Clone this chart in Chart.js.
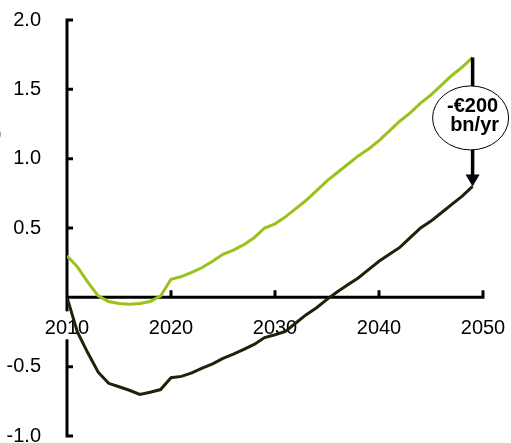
<!DOCTYPE html>
<html>
<head>
<meta charset="utf-8">
<script src="https://cdn.jsdelivr.net/npm/chart.js@4.4.1/dist/chart.umd.min.js"></script>
<style>
  html, body { margin: 0; padding: 0; background: #fff; overflow: hidden; }
  #wrap { width: 511px; height: 443px; }
</style>
</head>
<body>
<div id="wrap"><canvas id="chart"></canvas></div>
<script>
const years = [
  2010, 2011, 2012, 2013, 2014, 2015, 2016, 2017, 2018, 2019,
  2020, 2021, 2022, 2023, 2024, 2025, 2026, 2027, 2028, 2029,
  2030, 2031, 2032, 2033, 2034, 2035, 2036, 2037, 2038, 2039,
  2040, 2041, 2042, 2043, 2044, 2045, 2046, 2047, 2048, 2049
]
const greenLine = [
  0.30, 0.22, 0.11, 0.01, -0.03, -0.045, -0.05, -0.045, -0.03, 0.01,
  0.13, 0.15, 0.18, 0.215, 0.26, 0.31, 0.34, 0.38, 0.43, 0.50,
  0.53, 0.58, 0.64, 0.70, 0.77, 0.84, 0.90, 0.96, 1.02, 1.07,
  1.13, 1.20, 1.27, 1.33, 1.40, 1.46, 1.53, 1.60, 1.66, 1.73
]
const darkLine = [
  0, -0.25, -0.40, -0.54, -0.62, -0.645, -0.67, -0.70, -0.685, -0.665,
  -0.58, -0.57, -0.545, -0.51, -0.48, -0.44, -0.41, -0.375, -0.34, -0.29,
  -0.27, -0.245, -0.185, -0.125, -0.075, -0.015, 0.04, 0.09, 0.14, 0.20,
  0.26, 0.31, 0.36, 0.43, 0.50, 0.55, 0.61, 0.67, 0.73, 0.80
]
const xTicks = [2010, 2020, 2030, 2040, 2050]
const yTicks = [-1.0, -0.5, 0.5, 1.0, 1.5, 2.0]
const gapLabel = ['-€200', 'bn/yr']

const FONT = '"Liberation Sans", Arial, sans-serif'

// axes drawn by hand: ticks point inward, x axis sits at zero
const axesPlugin = {
  id: 'axes',
  beforeDatasetsDraw(chart) {
    const { ctx, chartArea: a, scales: { x, y } } = chart
    const y0 = y.getPixelForValue(0)
    ctx.save()
    ctx.strokeStyle = '#000'
    ctx.lineWidth = 3
    ctx.beginPath()
    ctx.moveTo(a.left, a.top - 1.5)
    ctx.lineTo(a.left, a.bottom + 1.5)
    yTicks.forEach(v => {
      const p = y.getPixelForValue(v)
      ctx.moveTo(a.left, p)
      ctx.lineTo(a.left + 6, p)
    })
    ctx.moveTo(a.left, y0)
    ctx.lineTo(a.right + 1.5, y0)
    xTicks.slice(1).forEach(v => {
      const p = x.getPixelForValue(v)
      ctx.moveTo(p, y0 + 1)
      ctx.lineTo(p, y0 - 7)
    })
    ctx.stroke()

    ctx.font = '20px ' + FONT
    ctx.textAlign = 'center'
    ctx.textBaseline = 'middle'
    xTicks.forEach(v => {
      const p = x.getPixelForValue(v)
      const w = ctx.measureText(String(v)).width
      ctx.fillStyle = '#fff'
      ctx.fillRect(p - w / 2 - 1, y0 + 14, w + 2, 28)
      ctx.fillStyle = '#000'
      ctx.fillText(String(v), p, y0 + 31)
    })

    // clipped axis title remnant at the left edge
    ctx.textAlign = 'left'
    ctx.fillText(')', -5, 134)
    ctx.restore()
  }
}

// arrow + ellipse showing the gap at the last year
const gapPlugin = {
  id: 'gap',
  afterDatasetsDraw(chart) {
    const { ctx, scales: { x, y } } = chart
    const last = years.length - 1
    const px = x.getPixelForValue(years[last])
    const top = y.getPixelForValue(greenLine[last])
    const bot = y.getPixelForValue(darkLine[last])
    ctx.save()
    ctx.strokeStyle = '#000'
    ctx.fillStyle = '#000'
    ctx.lineWidth = 3.5
    ctx.beginPath()
    ctx.moveTo(px, top)
    ctx.lineTo(px, bot - 10)
    ctx.stroke()
    ctx.beginPath()
    ctx.moveTo(px - 7, bot - 12)
    ctx.lineTo(px + 7, bot - 12)
    ctx.lineTo(px, bot)
    ctx.closePath()
    ctx.fill()

    const cy = (top + bot) / 2 - 4
    ctx.beginPath()
    ctx.ellipse(px - 2, cy, 38, 32, 0, 0, Math.PI * 2)
    ctx.fillStyle = '#fff'
    ctx.fill()
    ctx.lineWidth = 1
    ctx.stroke()

    ctx.fillStyle = '#000'
    ctx.font = 'bold 20px ' + FONT
    ctx.textAlign = 'center'
    ctx.textBaseline = 'middle'
    ctx.fillText(gapLabel[0], px, cy - 11)
    ctx.fillText(gapLabel[1], px + 2, cy + 8)
    ctx.restore()
  }
}

new Chart(document.getElementById('chart'), {
  type: 'line',
  data: {
    datasets: [
      {
        data: years.map((yr, i) => ({ x: yr, y: greenLine[i] })),
        borderColor: '#99c21c',
        borderWidth: 3,
        pointRadius: 0,
        tension: 0,
        fill: false,
      },
      {
        data: years.map((yr, i) => ({ x: yr, y: darkLine[i] })),
        borderColor: '#1c230b',
        borderWidth: 3,
        pointRadius: 0,
        tension: 0,
        fill: false,
      }
    ]
  },
  options: {
    responsive: true,
    maintainAspectRatio: false,
    animation: false,
    layout: { padding: { left: 0, top: 20, right: 28, bottom: 7 } },
    scales: {
      x: {
        type: 'linear',
        min: 2010,
        max: 2050,
        display: false,
      },
      y: {
        min: -1,
        max: 2,
        afterFit: s => { s.width = 67; s.paddingTop = 0; s.paddingBottom = 0 },
        border: { display: false },
        grid: { display: false },
        ticks: {
          stepSize: 0.5,
          color: '#000',
          padding: 18,
          font: { family: FONT, size: 20 },
          callback: v => v === 0 ? '' : v.toFixed(1)
        }
      }
    },
    plugins: {
      legend: { display: false },
      tooltip: { enabled: false }
    }
  },
  plugins: [axesPlugin, gapPlugin]
})
</script>
</body>
</html>
